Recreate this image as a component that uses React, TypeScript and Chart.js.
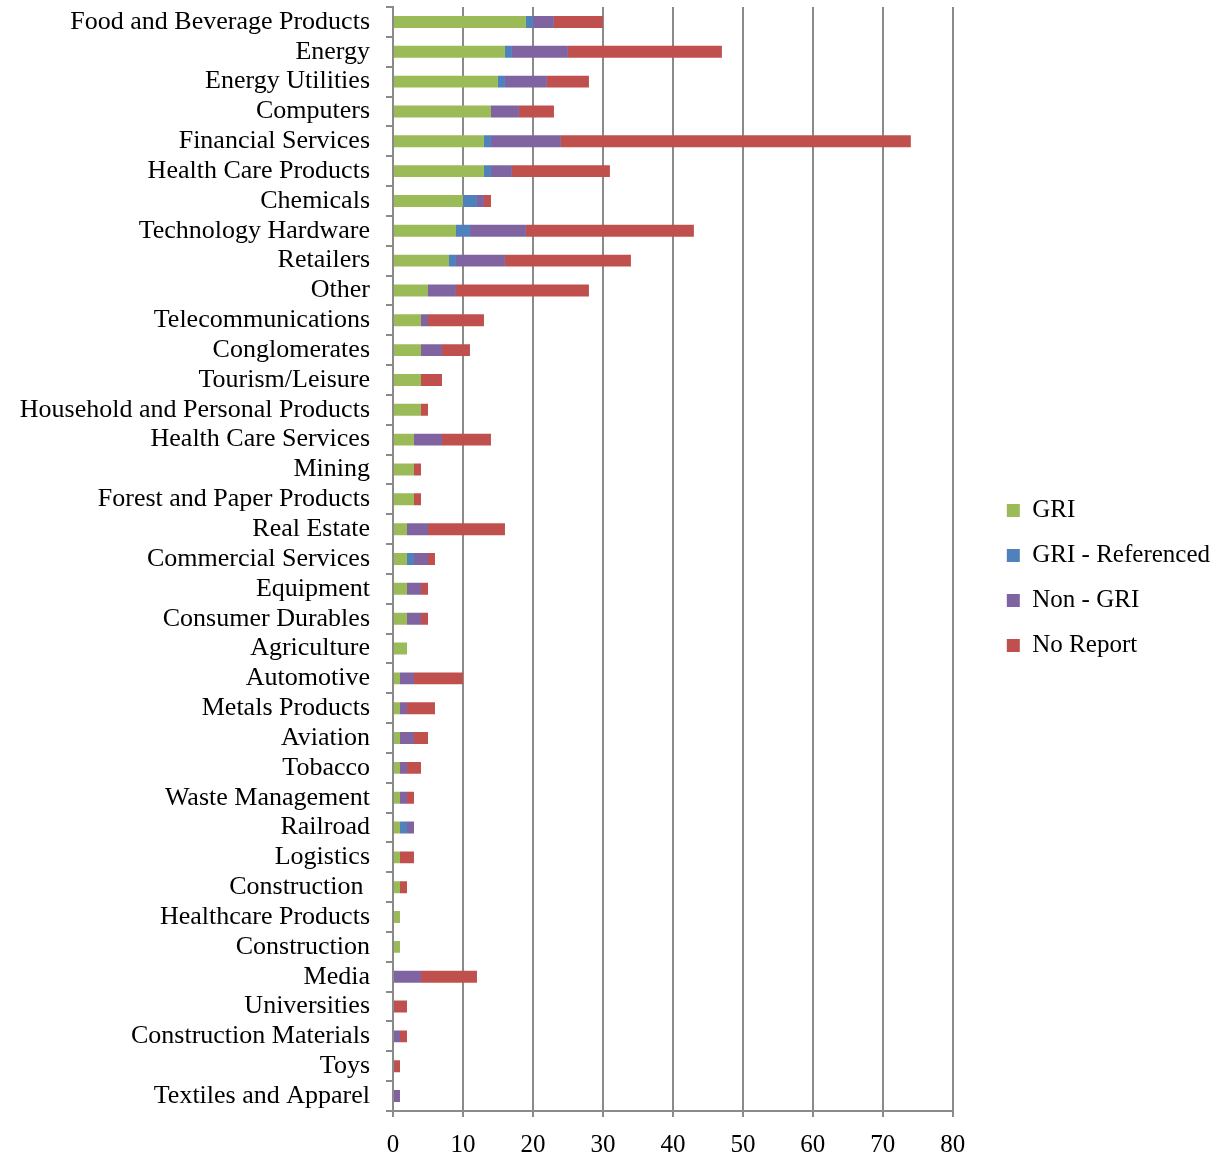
import React, { useEffect, useRef } from "react";
import { Chart, registerables } from "chart.js";

Chart.register(...registerables);

const industries = [
  "Food and Beverage Products",
  "Energy",
  "Energy Utilities",
  "Computers",
  "Financial Services",
  "Health Care Products",
  "Chemicals",
  "Technology Hardware",
  "Retailers",
  "Other",
  "Telecommunications",
  "Conglomerates",
  "Tourism/Leisure",
  "Household and Personal Products",
  "Health Care Services",
  "Mining",
  "Forest and Paper Products",
  "Real Estate",
  "Commercial Services",
  "Equipment",
  "Consumer Durables",
  "Agriculture",
  "Automotive",
  "Metals Products",
  "Aviation",
  "Tobacco",
  "Waste Management",
  "Railroad",
  "Logistics",
  "Construction ",
  "Healthcare Products",
  "Construction",
  "Media",
  "Universities",
  "Construction Materials",
  "Toys",
  "Textiles and Apparel",
];

const gri = [19, 16, 15, 14, 13, 13, 10, 9, 8, 5, 4, 4, 4, 4, 3, 3, 3, 2, 2, 2, 2, 2, 1, 1, 1, 1, 1, 1, 1, 1, 1, 1, 0, 0, 0, 0, 0];
const griReferenced = [1, 1, 1, 0, 1, 1, 2, 2, 1, 0, 0, 0, 0, 0, 0, 0, 0, 0, 1, 0, 0, 0, 0, 0, 0, 0, 0, 1, 0, 0, 0, 0, 0, 0, 0, 0, 0];
const nonGri = [3, 8, 6, 4, 10, 3, 1, 8, 7, 4, 1, 3, 0, 0, 4, 0, 0, 3, 2, 2, 2, 0, 2, 1, 2, 1, 1, 1, 0, 0, 0, 0, 4, 0, 1, 0, 1];
const noReport = [7, 22, 6, 5, 50, 14, 1, 24, 18, 19, 8, 4, 3, 1, 7, 1, 1, 11, 1, 1, 1, 0, 7, 4, 2, 2, 1, 0, 2, 1, 0, 0, 8, 2, 1, 1, 0];

const xTicks = [0, 10, 20, 30, 40, 50, 60, 70, 80];

const FONT = "'Liberation Serif', 'DejaVu Serif', serif";
const AXIS_GREY = "#8a8a8a";
const LEGEND_SHIFT_X = 34;
const LEGEND_SHIFT_Y = -3;

// Pushes the legend box out to the right edge so the plot keeps a wide gap before it.
const legendOffset = {
  id: "legendOffset",
  afterLayout(chart: any) {
    const lg = chart.legend;
    if (!lg) return;
    lg.left += LEGEND_SHIFT_X;
    lg.right += LEGEND_SHIFT_X;
    lg.top += LEGEND_SHIFT_Y;
    lg.bottom += LEGEND_SHIFT_Y;
  },
};

export default function App() {
  const canvasRef = useRef<HTMLCanvasElement | null>(null);

  useEffect(() => {
    const canvas = canvasRef.current;
    if (!canvas) return;
    const chart = new Chart(canvas, {
      type: "bar",
      data: {
        labels: industries,
        datasets: [
          { label: "GRI", data: gri, backgroundColor: "#9BBB59" },
          { label: "GRI - Referenced", data: griReferenced, backgroundColor: "#4F81BD" },
          { label: "Non - GRI", data: nonGri, backgroundColor: "#8064A2" },
          { label: "No Report", data: noReport, backgroundColor: "#C0504D" },
        ],
      },
      plugins: [legendOffset],
      options: {
        indexAxis: "y",
        responsive: true,
        maintainAspectRatio: false,
        animation: false,
        layout: { padding: { top: 7, right: LEGEND_SHIFT_X - 3, bottom: 0, left: 0 } },
        datasets: {
          bar: { categoryPercentage: 1, barPercentage: 0.4, borderWidth: 0 },
        },
        plugins: {
          tooltip: { enabled: false },
          legend: {
            position: "right",
            align: "center",
            labels: {
              boxWidth: 13,
              boxHeight: 13,
              padding: 20,
              color: "#000",
              font: { family: FONT, size: 25 },
            },
          },
        },
        scales: {
          x: {
            stacked: true,
            min: 0,
            max: 80,
            afterBuildTicks: (scale: any) => {
              scale.ticks = xTicks.map((v) => ({ value: v }));
            },
            afterFit: (scale: any) => {
              scale.height = 44;
            },
            grid: {
              color: AXIS_GREY,
              lineWidth: 2,
              tickLength: 6,
            },
            border: { color: AXIS_GREY, width: 2 },
            ticks: {
              color: "#000",
              padding: 13,
              font: { family: FONT, size: 25 },
            },
          },
          y: {
            stacked: true,
            afterFit: (scale: any) => {
              scale.width = 393;
              scale.paddingTop = 0;
              scale.paddingBottom = 0;
            },
            grid: {
              drawOnChartArea: false,
              offset: true,
              color: AXIS_GREY,
              lineWidth: 2,
              tickLength: 7,
            },
            border: { color: AXIS_GREY, width: 2 },
            ticks: {
              color: "#000",
              padding: 16,
              autoSkip: false,
              font: { family: FONT, size: 26 },
            },
          },
        },
      },
    });
    return () => chart.destroy();
  }, []);

  return (
    <div style={{ position: "fixed", left: 0, top: 0, width: 1217, height: 1155, background: "#fff" }}>
      <canvas ref={canvasRef} />
    </div>
  );
}
